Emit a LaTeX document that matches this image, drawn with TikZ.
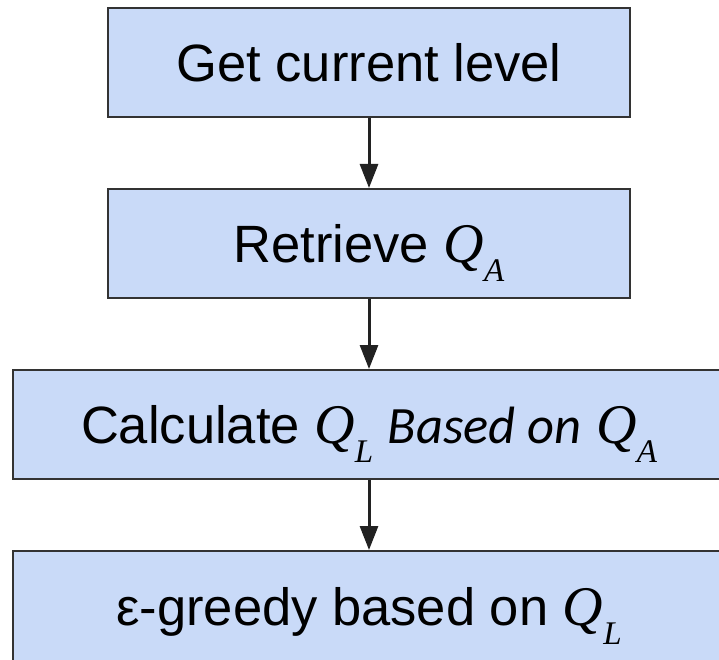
\documentclass[tikz,border=0pt]{standalone}
\usepackage{fontspec}
\setmainfont{Liberation Sans}
\newfontfamily\qfont{Liberation Serif}
\newfontfamily\calfont{Carlito}
\usepackage{tikz}
\usetikzlibrary{arrows.meta,positioning}
\definecolor{boxfill}{HTML}{C9DAF8}
\definecolor{boxline}{HTML}{333333}
\definecolor{arrowink}{HTML}{222222}
\newcommand{\qvar}[1]{{\qfont\itshape\fontsize{56}{60}\selectfont Q\raisebox{-19pt}{\fontsize{33}{33}\selectfont #1}}}
\tikzset{
  stepbox/.style={
    rectangle, draw=boxline, fill=boxfill, line width=2pt,
    minimum width=#1, minimum height=109pt,
    font=\fontsize{52.5}{60}\selectfont, align=center,
    inner sep=0pt, text height=38pt, text depth=0pt
  },
  stepbox/.default=522pt,
  flowarrow/.style={
    -{Triangle[length=24pt,width=18pt]}, line width=3pt, color=#1
  },
  flowarrow/.default=arrowink,
}

\begin{document}
\begin{tikzpicture}[node distance=70pt]
  \useasboundingbox (0,0) rectangle (719pt,-660pt);
  \clip (0,0) rectangle (719pt,-660pt);
  \node[stepbox] (level) at (369pt,-62.5pt) {Get current level};
  \node[stepbox, below=of level] (retrieve) {Retrieve \qvar{A}};
  \node[stepbox=712pt, below=of retrieve] (calc)
    {Calculate \qvar{L} {\calfont\itshape Based on} \qvar{A}};
  \node[stepbox=712pt, minimum height=117pt, text height=32pt,
    below=of calc] (greedy) {ε-greedy based on \qvar{L}};
  \draw[flowarrow] (level) -- (retrieve);
  \draw[flowarrow] (retrieve) -- (calc);
  \draw[flowarrow] (calc) -- (greedy);
\end{tikzpicture}
\end{document}
